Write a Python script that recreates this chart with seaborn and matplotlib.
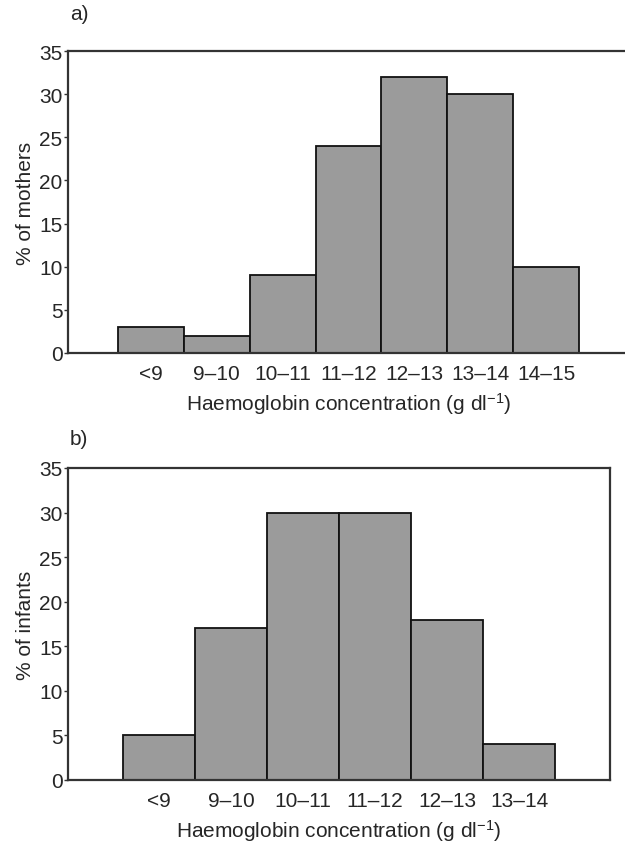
import matplotlib
matplotlib.use('Agg')
import matplotlib.pyplot as plt
import seaborn as sns
import pandas as pd

# Haemoglobin distribution, mothers (a) and infants (b)
mother_bins = ['<9', '9–10', '10–11', '11–12', '12–13', '13–14', '14–15']
mother_pct = [3, 2, 9, 24, 32, 30, 10]
infant_bins = ['<9', '9–10', '10–11', '11–12', '12–13', '13–14']
infant_pct = [5, 17, 30, 30, 18, 4]

sns.set_theme(style='ticks')
plt.rcParams['font.family'] = ['Liberation Sans', 'DejaVu Sans']
plt.rcParams['mathtext.fontset'] = 'custom'
plt.rcParams['mathtext.rm'] = 'Liberation Sans'
plt.rcParams['mathtext.it'] = 'Liberation Sans'

W, H = 625, 845
fig = plt.figure(figsize=(W / 100, H / 100), dpi=100)

def px_axes(left, top, right, bottom):
    return fig.add_axes([left / W, 1 - bottom / H, (right - left) / W, (bottom - top) / H])

ax_a = px_axes(68, 52, 629, 354)
ax_b = px_axes(68, 469, 610, 781)

panels = [
    (ax_a, mother_bins, mother_pct, '% of mothers'),
    (ax_b, infant_bins, infant_pct, '% of infants'),
]

for ax, bins, pct, ylab in panels:
    df = pd.DataFrame({'bin': bins, 'pct': pct})
    sns.barplot(data=df, x='bin', y='pct', ax=ax, width=1.0, color='#9b9b9b',
                saturation=1, edgecolor='#111111', linewidth=1.3)
    ax.set_xlim(-1.26, len(bins) - 0.5 + 0.76)
    ax.set_ylim(0, 35)
    ax.set_yticks(range(0, 36, 5))
    ax.tick_params(axis='y', length=3, width=1, labelsize=15, pad=1, color='#333333')
    ax.tick_params(axis='x', length=0, labelsize=15, pad=8)
    ax.set_ylabel(ylab, fontsize=15, labelpad=3)
    ax.set_xlabel('Haemoglobin concentration (g dl$^{-1}$)', fontsize=15, labelpad=5)
    for s in ax.spines.values():
        s.set_visible(True)
        s.set_color('#333333')
        s.set_linewidth(1.6)

ax_b.xaxis.labelpad = 5

fig.text(70 / W, 1 - 15 / H, 'a)', fontsize=15, va='center', ha='left')
fig.text(70 / W, 1 - 440 / H, 'b)', fontsize=15, va='center', ha='left')

fig.savefig('out.png', dpi=100)
